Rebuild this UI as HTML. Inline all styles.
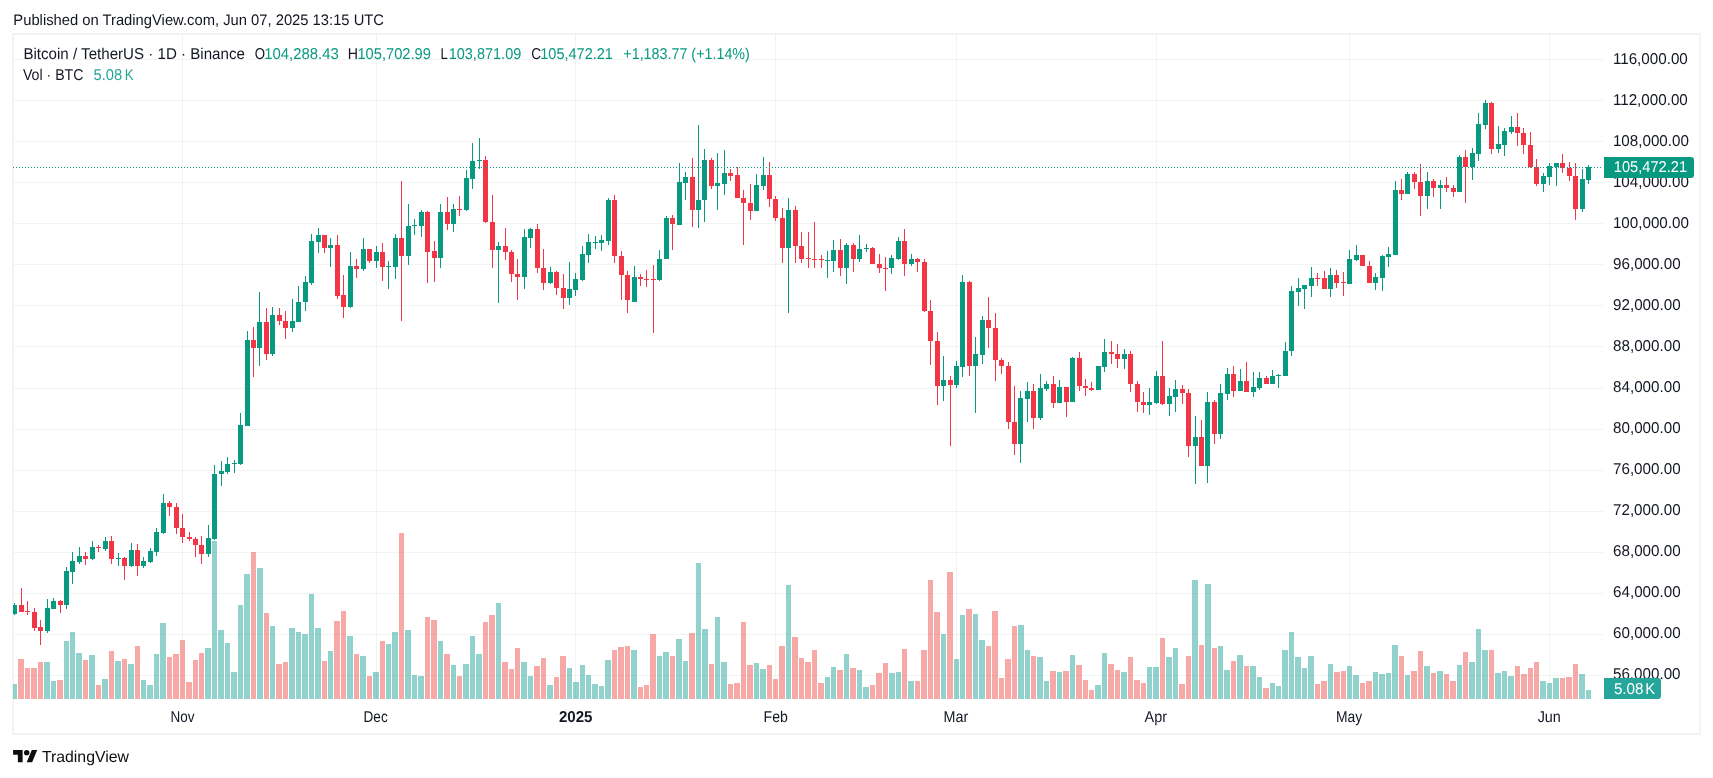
<!DOCTYPE html><html><head><meta charset="utf-8"><title>BTCUSDT chart</title><style>html,body{margin:0;padding:0;background:#fff;}svg{display:block;will-change:transform}text{font-family:"Liberation Sans", Arial, sans-serif;text-rendering:geometricPrecision}</style></head><body>
<svg width="1713" height="778" viewBox="0 0 1713 778">
<rect x="0" y="0" width="1713" height="778" fill="#fff"/>
<rect x="13" y="34" width="1687" height="700" fill="none" stroke="#f3f3f3" stroke-width="2"/>
<g shape-rendering="crispEdges">
<rect x="14" y="59" width="1589" height="1" fill="rgba(42,46,57,0.06)"/>
<rect x="14" y="100" width="1589" height="1" fill="rgba(42,46,57,0.06)"/>
<rect x="14" y="141" width="1589" height="1" fill="rgba(42,46,57,0.06)"/>
<rect x="14" y="182" width="1589" height="1" fill="rgba(42,46,57,0.06)"/>
<rect x="14" y="223" width="1589" height="1" fill="rgba(42,46,57,0.06)"/>
<rect x="14" y="264" width="1589" height="1" fill="rgba(42,46,57,0.06)"/>
<rect x="14" y="305" width="1589" height="1" fill="rgba(42,46,57,0.06)"/>
<rect x="14" y="346" width="1589" height="1" fill="rgba(42,46,57,0.06)"/>
<rect x="14" y="388" width="1589" height="1" fill="rgba(42,46,57,0.06)"/>
<rect x="14" y="429" width="1589" height="1" fill="rgba(42,46,57,0.06)"/>
<rect x="14" y="470" width="1589" height="1" fill="rgba(42,46,57,0.06)"/>
<rect x="14" y="511" width="1589" height="1" fill="rgba(42,46,57,0.06)"/>
<rect x="14" y="552" width="1589" height="1" fill="rgba(42,46,57,0.06)"/>
<rect x="14" y="593" width="1589" height="1" fill="rgba(42,46,57,0.06)"/>
<rect x="14" y="634" width="1589" height="1" fill="rgba(42,46,57,0.06)"/>
<rect x="14" y="675" width="1589" height="1" fill="rgba(42,46,57,0.06)"/>
<rect x="182" y="34" width="1" height="665" fill="rgba(42,46,57,0.06)"/>
<rect x="376" y="34" width="1" height="665" fill="rgba(42,46,57,0.06)"/>
<rect x="575" y="34" width="1" height="665" fill="rgba(42,46,57,0.06)"/>
<rect x="775" y="34" width="1" height="665" fill="rgba(42,46,57,0.06)"/>
<rect x="956" y="34" width="1" height="665" fill="rgba(42,46,57,0.06)"/>
<rect x="1156" y="34" width="1" height="665" fill="rgba(42,46,57,0.06)"/>
<rect x="1349" y="34" width="1" height="665" fill="rgba(42,46,57,0.06)"/>
<rect x="1549" y="34" width="1" height="665" fill="rgba(42,46,57,0.06)"/>
</g>
<g shape-rendering="crispEdges">
<rect x="13" y="684" width="4" height="15" fill="rgba(38,166,154,0.5)"/>
<rect x="18" y="659" width="6" height="40" fill="rgba(239,83,80,0.5)"/>
<rect x="25" y="668" width="5" height="31" fill="rgba(239,83,80,0.5)"/>
<rect x="31" y="668" width="6" height="31" fill="rgba(239,83,80,0.5)"/>
<rect x="38" y="662" width="5" height="37" fill="rgba(239,83,80,0.5)"/>
<rect x="44" y="662" width="6" height="37" fill="rgba(38,166,154,0.5)"/>
<rect x="51" y="681" width="5" height="18" fill="rgba(38,166,154,0.5)"/>
<rect x="57" y="680" width="6" height="19" fill="rgba(239,83,80,0.5)"/>
<rect x="64" y="641" width="5" height="58" fill="rgba(38,166,154,0.5)"/>
<rect x="70" y="632" width="5" height="67" fill="rgba(38,166,154,0.5)"/>
<rect x="76" y="653" width="6" height="46" fill="rgba(38,166,154,0.5)"/>
<rect x="83" y="660" width="5" height="39" fill="rgba(239,83,80,0.5)"/>
<rect x="89" y="655" width="6" height="44" fill="rgba(38,166,154,0.5)"/>
<rect x="96" y="685" width="5" height="14" fill="rgba(239,83,80,0.5)"/>
<rect x="102" y="679" width="6" height="20" fill="rgba(38,166,154,0.5)"/>
<rect x="109" y="651" width="5" height="48" fill="rgba(239,83,80,0.5)"/>
<rect x="115" y="661" width="6" height="38" fill="rgba(38,166,154,0.5)"/>
<rect x="122" y="659" width="5" height="40" fill="rgba(239,83,80,0.5)"/>
<rect x="128" y="664" width="6" height="35" fill="rgba(38,166,154,0.5)"/>
<rect x="135" y="646" width="5" height="53" fill="rgba(239,83,80,0.5)"/>
<rect x="141" y="680" width="5" height="19" fill="rgba(38,166,154,0.5)"/>
<rect x="147" y="685" width="6" height="14" fill="rgba(38,166,154,0.5)"/>
<rect x="154" y="654" width="5" height="45" fill="rgba(38,166,154,0.5)"/>
<rect x="160" y="623" width="6" height="76" fill="rgba(38,166,154,0.5)"/>
<rect x="167" y="657" width="5" height="42" fill="rgba(239,83,80,0.5)"/>
<rect x="173" y="654" width="6" height="45" fill="rgba(239,83,80,0.5)"/>
<rect x="180" y="640" width="5" height="59" fill="rgba(239,83,80,0.5)"/>
<rect x="186" y="682" width="6" height="17" fill="rgba(239,83,80,0.5)"/>
<rect x="193" y="660" width="5" height="39" fill="rgba(239,83,80,0.5)"/>
<rect x="199" y="653" width="5" height="46" fill="rgba(239,83,80,0.5)"/>
<rect x="205" y="648" width="6" height="51" fill="rgba(38,166,154,0.5)"/>
<rect x="212" y="541" width="5" height="158" fill="rgba(38,166,154,0.5)"/>
<rect x="218" y="630" width="6" height="69" fill="rgba(38,166,154,0.5)"/>
<rect x="225" y="643" width="5" height="56" fill="rgba(38,166,154,0.5)"/>
<rect x="231" y="672" width="6" height="27" fill="rgba(38,166,154,0.5)"/>
<rect x="238" y="605" width="5" height="94" fill="rgba(38,166,154,0.5)"/>
<rect x="244" y="574" width="6" height="125" fill="rgba(38,166,154,0.5)"/>
<rect x="251" y="552" width="5" height="147" fill="rgba(239,83,80,0.5)"/>
<rect x="257" y="568" width="6" height="131" fill="rgba(38,166,154,0.5)"/>
<rect x="264" y="613" width="5" height="86" fill="rgba(239,83,80,0.5)"/>
<rect x="270" y="626" width="5" height="73" fill="rgba(38,166,154,0.5)"/>
<rect x="276" y="664" width="6" height="35" fill="rgba(239,83,80,0.5)"/>
<rect x="283" y="662" width="5" height="37" fill="rgba(239,83,80,0.5)"/>
<rect x="289" y="628" width="6" height="71" fill="rgba(38,166,154,0.5)"/>
<rect x="296" y="632" width="5" height="67" fill="rgba(38,166,154,0.5)"/>
<rect x="302" y="634" width="6" height="65" fill="rgba(38,166,154,0.5)"/>
<rect x="309" y="594" width="5" height="105" fill="rgba(38,166,154,0.5)"/>
<rect x="315" y="628" width="6" height="71" fill="rgba(38,166,154,0.5)"/>
<rect x="322" y="661" width="5" height="38" fill="rgba(239,83,80,0.5)"/>
<rect x="328" y="651" width="5" height="48" fill="rgba(38,166,154,0.5)"/>
<rect x="334" y="621" width="6" height="78" fill="rgba(239,83,80,0.5)"/>
<rect x="341" y="611" width="5" height="88" fill="rgba(239,83,80,0.5)"/>
<rect x="347" y="636" width="6" height="63" fill="rgba(38,166,154,0.5)"/>
<rect x="354" y="654" width="5" height="45" fill="rgba(239,83,80,0.5)"/>
<rect x="360" y="656" width="6" height="43" fill="rgba(38,166,154,0.5)"/>
<rect x="367" y="676" width="5" height="23" fill="rgba(239,83,80,0.5)"/>
<rect x="373" y="672" width="6" height="27" fill="rgba(38,166,154,0.5)"/>
<rect x="380" y="641" width="5" height="58" fill="rgba(239,83,80,0.5)"/>
<rect x="386" y="644" width="5" height="55" fill="rgba(38,166,154,0.5)"/>
<rect x="392" y="632" width="6" height="67" fill="rgba(38,166,154,0.5)"/>
<rect x="399" y="533" width="5" height="166" fill="rgba(239,83,80,0.5)"/>
<rect x="405" y="630" width="6" height="69" fill="rgba(38,166,154,0.5)"/>
<rect x="412" y="675" width="5" height="24" fill="rgba(38,166,154,0.5)"/>
<rect x="418" y="676" width="6" height="23" fill="rgba(38,166,154,0.5)"/>
<rect x="425" y="617" width="5" height="82" fill="rgba(239,83,80,0.5)"/>
<rect x="431" y="620" width="6" height="79" fill="rgba(239,83,80,0.5)"/>
<rect x="438" y="641" width="5" height="58" fill="rgba(38,166,154,0.5)"/>
<rect x="444" y="654" width="6" height="45" fill="rgba(239,83,80,0.5)"/>
<rect x="451" y="665" width="5" height="34" fill="rgba(38,166,154,0.5)"/>
<rect x="457" y="676" width="5" height="23" fill="rgba(239,83,80,0.5)"/>
<rect x="463" y="664" width="6" height="35" fill="rgba(38,166,154,0.5)"/>
<rect x="470" y="636" width="5" height="63" fill="rgba(38,166,154,0.5)"/>
<rect x="476" y="654" width="6" height="45" fill="rgba(38,166,154,0.5)"/>
<rect x="483" y="622" width="5" height="77" fill="rgba(239,83,80,0.5)"/>
<rect x="489" y="615" width="6" height="84" fill="rgba(239,83,80,0.5)"/>
<rect x="496" y="603" width="5" height="96" fill="rgba(38,166,154,0.5)"/>
<rect x="502" y="662" width="6" height="37" fill="rgba(239,83,80,0.5)"/>
<rect x="509" y="669" width="5" height="30" fill="rgba(239,83,80,0.5)"/>
<rect x="515" y="648" width="5" height="51" fill="rgba(239,83,80,0.5)"/>
<rect x="521" y="662" width="6" height="37" fill="rgba(38,166,154,0.5)"/>
<rect x="528" y="676" width="5" height="23" fill="rgba(38,166,154,0.5)"/>
<rect x="534" y="666" width="6" height="33" fill="rgba(239,83,80,0.5)"/>
<rect x="541" y="658" width="5" height="41" fill="rgba(239,83,80,0.5)"/>
<rect x="547" y="685" width="6" height="14" fill="rgba(38,166,154,0.5)"/>
<rect x="554" y="677" width="5" height="22" fill="rgba(239,83,80,0.5)"/>
<rect x="560" y="656" width="6" height="43" fill="rgba(239,83,80,0.5)"/>
<rect x="567" y="668" width="5" height="31" fill="rgba(38,166,154,0.5)"/>
<rect x="573" y="682" width="6" height="17" fill="rgba(38,166,154,0.5)"/>
<rect x="580" y="665" width="5" height="34" fill="rgba(38,166,154,0.5)"/>
<rect x="586" y="675" width="5" height="24" fill="rgba(38,166,154,0.5)"/>
<rect x="592" y="684" width="6" height="15" fill="rgba(38,166,154,0.5)"/>
<rect x="599" y="686" width="5" height="13" fill="rgba(38,166,154,0.5)"/>
<rect x="605" y="660" width="6" height="39" fill="rgba(38,166,154,0.5)"/>
<rect x="612" y="650" width="5" height="49" fill="rgba(239,83,80,0.5)"/>
<rect x="618" y="647" width="6" height="52" fill="rgba(239,83,80,0.5)"/>
<rect x="625" y="646" width="5" height="53" fill="rgba(239,83,80,0.5)"/>
<rect x="631" y="650" width="6" height="49" fill="rgba(38,166,154,0.5)"/>
<rect x="638" y="687" width="5" height="12" fill="rgba(239,83,80,0.5)"/>
<rect x="644" y="685" width="5" height="14" fill="rgba(239,83,80,0.5)"/>
<rect x="650" y="634" width="6" height="65" fill="rgba(239,83,80,0.5)"/>
<rect x="657" y="656" width="5" height="43" fill="rgba(38,166,154,0.5)"/>
<rect x="663" y="652" width="6" height="47" fill="rgba(38,166,154,0.5)"/>
<rect x="670" y="656" width="5" height="43" fill="rgba(239,83,80,0.5)"/>
<rect x="676" y="639" width="6" height="60" fill="rgba(38,166,154,0.5)"/>
<rect x="683" y="661" width="5" height="38" fill="rgba(38,166,154,0.5)"/>
<rect x="689" y="633" width="6" height="66" fill="rgba(239,83,80,0.5)"/>
<rect x="696" y="563" width="5" height="136" fill="rgba(38,166,154,0.5)"/>
<rect x="702" y="629" width="6" height="70" fill="rgba(38,166,154,0.5)"/>
<rect x="709" y="664" width="5" height="35" fill="rgba(239,83,80,0.5)"/>
<rect x="715" y="617" width="5" height="82" fill="rgba(38,166,154,0.5)"/>
<rect x="721" y="662" width="6" height="37" fill="rgba(38,166,154,0.5)"/>
<rect x="728" y="684" width="5" height="15" fill="rgba(239,83,80,0.5)"/>
<rect x="734" y="683" width="6" height="16" fill="rgba(239,83,80,0.5)"/>
<rect x="741" y="622" width="5" height="77" fill="rgba(239,83,80,0.5)"/>
<rect x="747" y="665" width="6" height="34" fill="rgba(239,83,80,0.5)"/>
<rect x="754" y="663" width="5" height="36" fill="rgba(38,166,154,0.5)"/>
<rect x="760" y="669" width="6" height="30" fill="rgba(38,166,154,0.5)"/>
<rect x="767" y="665" width="5" height="34" fill="rgba(239,83,80,0.5)"/>
<rect x="773" y="679" width="5" height="20" fill="rgba(239,83,80,0.5)"/>
<rect x="779" y="646" width="6" height="53" fill="rgba(239,83,80,0.5)"/>
<rect x="786" y="585" width="5" height="114" fill="rgba(38,166,154,0.5)"/>
<rect x="792" y="637" width="6" height="62" fill="rgba(239,83,80,0.5)"/>
<rect x="799" y="658" width="5" height="41" fill="rgba(239,83,80,0.5)"/>
<rect x="805" y="662" width="6" height="37" fill="rgba(239,83,80,0.5)"/>
<rect x="812" y="650" width="5" height="49" fill="rgba(239,83,80,0.5)"/>
<rect x="818" y="683" width="6" height="16" fill="rgba(239,83,80,0.5)"/>
<rect x="825" y="677" width="5" height="22" fill="rgba(38,166,154,0.5)"/>
<rect x="831" y="667" width="5" height="32" fill="rgba(38,166,154,0.5)"/>
<rect x="837" y="670" width="6" height="29" fill="rgba(239,83,80,0.5)"/>
<rect x="844" y="654" width="5" height="45" fill="rgba(38,166,154,0.5)"/>
<rect x="850" y="668" width="6" height="31" fill="rgba(239,83,80,0.5)"/>
<rect x="857" y="670" width="5" height="29" fill="rgba(38,166,154,0.5)"/>
<rect x="863" y="687" width="6" height="12" fill="rgba(38,166,154,0.5)"/>
<rect x="870" y="685" width="5" height="14" fill="rgba(239,83,80,0.5)"/>
<rect x="876" y="673" width="6" height="26" fill="rgba(239,83,80,0.5)"/>
<rect x="883" y="663" width="5" height="36" fill="rgba(239,83,80,0.5)"/>
<rect x="889" y="673" width="6" height="26" fill="rgba(38,166,154,0.5)"/>
<rect x="896" y="672" width="5" height="27" fill="rgba(38,166,154,0.5)"/>
<rect x="902" y="649" width="5" height="50" fill="rgba(239,83,80,0.5)"/>
<rect x="908" y="681" width="6" height="18" fill="rgba(38,166,154,0.5)"/>
<rect x="915" y="681" width="5" height="18" fill="rgba(239,83,80,0.5)"/>
<rect x="921" y="650" width="6" height="49" fill="rgba(239,83,80,0.5)"/>
<rect x="928" y="580" width="5" height="119" fill="rgba(239,83,80,0.5)"/>
<rect x="934" y="612" width="6" height="87" fill="rgba(239,83,80,0.5)"/>
<rect x="941" y="634" width="5" height="65" fill="rgba(38,166,154,0.5)"/>
<rect x="947" y="572" width="6" height="127" fill="rgba(239,83,80,0.5)"/>
<rect x="954" y="659" width="5" height="40" fill="rgba(38,166,154,0.5)"/>
<rect x="960" y="615" width="5" height="84" fill="rgba(38,166,154,0.5)"/>
<rect x="966" y="609" width="6" height="90" fill="rgba(239,83,80,0.5)"/>
<rect x="973" y="614" width="5" height="85" fill="rgba(38,166,154,0.5)"/>
<rect x="979" y="640" width="6" height="59" fill="rgba(38,166,154,0.5)"/>
<rect x="986" y="646" width="5" height="53" fill="rgba(239,83,80,0.5)"/>
<rect x="992" y="611" width="6" height="88" fill="rgba(239,83,80,0.5)"/>
<rect x="999" y="678" width="5" height="21" fill="rgba(239,83,80,0.5)"/>
<rect x="1005" y="659" width="6" height="40" fill="rgba(239,83,80,0.5)"/>
<rect x="1012" y="626" width="5" height="73" fill="rgba(239,83,80,0.5)"/>
<rect x="1018" y="625" width="6" height="74" fill="rgba(38,166,154,0.5)"/>
<rect x="1025" y="650" width="5" height="49" fill="rgba(38,166,154,0.5)"/>
<rect x="1031" y="656" width="5" height="43" fill="rgba(239,83,80,0.5)"/>
<rect x="1037" y="657" width="6" height="42" fill="rgba(38,166,154,0.5)"/>
<rect x="1044" y="681" width="5" height="18" fill="rgba(38,166,154,0.5)"/>
<rect x="1050" y="671" width="6" height="28" fill="rgba(239,83,80,0.5)"/>
<rect x="1057" y="672" width="5" height="27" fill="rgba(38,166,154,0.5)"/>
<rect x="1063" y="671" width="6" height="28" fill="rgba(239,83,80,0.5)"/>
<rect x="1070" y="655" width="5" height="44" fill="rgba(38,166,154,0.5)"/>
<rect x="1076" y="665" width="6" height="34" fill="rgba(239,83,80,0.5)"/>
<rect x="1083" y="680" width="5" height="19" fill="rgba(239,83,80,0.5)"/>
<rect x="1089" y="690" width="5" height="9" fill="rgba(239,83,80,0.5)"/>
<rect x="1095" y="685" width="6" height="14" fill="rgba(38,166,154,0.5)"/>
<rect x="1102" y="653" width="5" height="46" fill="rgba(38,166,154,0.5)"/>
<rect x="1108" y="664" width="6" height="35" fill="rgba(239,83,80,0.5)"/>
<rect x="1115" y="670" width="5" height="29" fill="rgba(239,83,80,0.5)"/>
<rect x="1121" y="672" width="6" height="27" fill="rgba(38,166,154,0.5)"/>
<rect x="1128" y="657" width="5" height="42" fill="rgba(239,83,80,0.5)"/>
<rect x="1134" y="680" width="6" height="19" fill="rgba(239,83,80,0.5)"/>
<rect x="1141" y="683" width="5" height="16" fill="rgba(239,83,80,0.5)"/>
<rect x="1147" y="667" width="5" height="32" fill="rgba(38,166,154,0.5)"/>
<rect x="1153" y="667" width="6" height="32" fill="rgba(38,166,154,0.5)"/>
<rect x="1160" y="638" width="5" height="61" fill="rgba(239,83,80,0.5)"/>
<rect x="1166" y="657" width="6" height="42" fill="rgba(38,166,154,0.5)"/>
<rect x="1173" y="648" width="5" height="51" fill="rgba(38,166,154,0.5)"/>
<rect x="1179" y="684" width="6" height="15" fill="rgba(239,83,80,0.5)"/>
<rect x="1186" y="656" width="5" height="43" fill="rgba(239,83,80,0.5)"/>
<rect x="1192" y="580" width="6" height="119" fill="rgba(38,166,154,0.5)"/>
<rect x="1199" y="645" width="5" height="54" fill="rgba(239,83,80,0.5)"/>
<rect x="1205" y="584" width="6" height="115" fill="rgba(38,166,154,0.5)"/>
<rect x="1212" y="648" width="5" height="51" fill="rgba(239,83,80,0.5)"/>
<rect x="1218" y="646" width="5" height="53" fill="rgba(38,166,154,0.5)"/>
<rect x="1224" y="670" width="6" height="29" fill="rgba(38,166,154,0.5)"/>
<rect x="1231" y="661" width="5" height="38" fill="rgba(239,83,80,0.5)"/>
<rect x="1237" y="655" width="6" height="44" fill="rgba(38,166,154,0.5)"/>
<rect x="1244" y="666" width="5" height="33" fill="rgba(239,83,80,0.5)"/>
<rect x="1250" y="666" width="6" height="33" fill="rgba(38,166,154,0.5)"/>
<rect x="1257" y="677" width="5" height="22" fill="rgba(38,166,154,0.5)"/>
<rect x="1263" y="688" width="6" height="11" fill="rgba(239,83,80,0.5)"/>
<rect x="1270" y="683" width="5" height="16" fill="rgba(38,166,154,0.5)"/>
<rect x="1276" y="686" width="5" height="13" fill="rgba(38,166,154,0.5)"/>
<rect x="1282" y="650" width="6" height="49" fill="rgba(38,166,154,0.5)"/>
<rect x="1289" y="632" width="5" height="67" fill="rgba(38,166,154,0.5)"/>
<rect x="1295" y="657" width="6" height="42" fill="rgba(38,166,154,0.5)"/>
<rect x="1302" y="668" width="5" height="31" fill="rgba(38,166,154,0.5)"/>
<rect x="1308" y="656" width="6" height="43" fill="rgba(38,166,154,0.5)"/>
<rect x="1315" y="684" width="5" height="15" fill="rgba(239,83,80,0.5)"/>
<rect x="1321" y="681" width="6" height="18" fill="rgba(239,83,80,0.5)"/>
<rect x="1328" y="664" width="5" height="35" fill="rgba(38,166,154,0.5)"/>
<rect x="1334" y="672" width="6" height="27" fill="rgba(239,83,80,0.5)"/>
<rect x="1341" y="671" width="5" height="28" fill="rgba(239,83,80,0.5)"/>
<rect x="1347" y="666" width="5" height="33" fill="rgba(38,166,154,0.5)"/>
<rect x="1353" y="675" width="6" height="24" fill="rgba(38,166,154,0.5)"/>
<rect x="1360" y="683" width="5" height="16" fill="rgba(239,83,80,0.5)"/>
<rect x="1366" y="681" width="6" height="18" fill="rgba(239,83,80,0.5)"/>
<rect x="1373" y="672" width="5" height="27" fill="rgba(38,166,154,0.5)"/>
<rect x="1379" y="674" width="6" height="25" fill="rgba(38,166,154,0.5)"/>
<rect x="1386" y="673" width="5" height="26" fill="rgba(38,166,154,0.5)"/>
<rect x="1392" y="645" width="6" height="54" fill="rgba(38,166,154,0.5)"/>
<rect x="1399" y="656" width="5" height="43" fill="rgba(239,83,80,0.5)"/>
<rect x="1405" y="675" width="5" height="24" fill="rgba(38,166,154,0.5)"/>
<rect x="1411" y="671" width="6" height="28" fill="rgba(239,83,80,0.5)"/>
<rect x="1418" y="651" width="5" height="48" fill="rgba(239,83,80,0.5)"/>
<rect x="1424" y="666" width="6" height="33" fill="rgba(38,166,154,0.5)"/>
<rect x="1431" y="673" width="5" height="26" fill="rgba(239,83,80,0.5)"/>
<rect x="1437" y="671" width="6" height="28" fill="rgba(38,166,154,0.5)"/>
<rect x="1444" y="674" width="5" height="25" fill="rgba(239,83,80,0.5)"/>
<rect x="1450" y="681" width="6" height="18" fill="rgba(239,83,80,0.5)"/>
<rect x="1457" y="665" width="5" height="34" fill="rgba(38,166,154,0.5)"/>
<rect x="1463" y="652" width="5" height="47" fill="rgba(239,83,80,0.5)"/>
<rect x="1469" y="662" width="6" height="37" fill="rgba(38,166,154,0.5)"/>
<rect x="1476" y="629" width="5" height="70" fill="rgba(38,166,154,0.5)"/>
<rect x="1482" y="650" width="6" height="49" fill="rgba(38,166,154,0.5)"/>
<rect x="1489" y="650" width="5" height="49" fill="rgba(239,83,80,0.5)"/>
<rect x="1495" y="673" width="6" height="26" fill="rgba(38,166,154,0.5)"/>
<rect x="1502" y="671" width="5" height="28" fill="rgba(38,166,154,0.5)"/>
<rect x="1508" y="676" width="6" height="23" fill="rgba(38,166,154,0.5)"/>
<rect x="1515" y="666" width="5" height="33" fill="rgba(239,83,80,0.5)"/>
<rect x="1521" y="674" width="6" height="25" fill="rgba(239,83,80,0.5)"/>
<rect x="1528" y="668" width="5" height="31" fill="rgba(239,83,80,0.5)"/>
<rect x="1534" y="662" width="5" height="37" fill="rgba(239,83,80,0.5)"/>
<rect x="1540" y="681" width="6" height="18" fill="rgba(38,166,154,0.5)"/>
<rect x="1547" y="683" width="5" height="16" fill="rgba(38,166,154,0.5)"/>
<rect x="1553" y="678" width="6" height="21" fill="rgba(38,166,154,0.5)"/>
<rect x="1560" y="678" width="5" height="21" fill="rgba(239,83,80,0.5)"/>
<rect x="1566" y="677" width="6" height="22" fill="rgba(239,83,80,0.5)"/>
<rect x="1573" y="664" width="5" height="35" fill="rgba(239,83,80,0.5)"/>
<rect x="1579" y="674" width="6" height="25" fill="rgba(38,166,154,0.5)"/>
<rect x="1586" y="690" width="5" height="9" fill="rgba(38,166,154,0.5)"/>
</g>
<g shape-rendering="crispEdges">
<rect x="14" y="603" width="1" height="12" fill="#089981"/>
<rect x="13" y="605" width="4" height="9" fill="#089981"/>
<rect x="21" y="588" width="1" height="24" fill="#F23645"/>
<rect x="19" y="605" width="5" height="7" fill="#F23645"/>
<rect x="27" y="601" width="1" height="14" fill="#F23645"/>
<rect x="25" y="611" width="5" height="1" fill="#F23645"/>
<rect x="34" y="608" width="1" height="23" fill="#F23645"/>
<rect x="32" y="612" width="5" height="16" fill="#F23645"/>
<rect x="40" y="620" width="1" height="25" fill="#F23645"/>
<rect x="38" y="627" width="5" height="4" fill="#F23645"/>
<rect x="47" y="599" width="1" height="34" fill="#089981"/>
<rect x="45" y="608" width="5" height="23" fill="#089981"/>
<rect x="53" y="598" width="1" height="11" fill="#089981"/>
<rect x="51" y="601" width="5" height="8" fill="#089981"/>
<rect x="60" y="600" width="1" height="13" fill="#F23645"/>
<rect x="58" y="601" width="5" height="4" fill="#F23645"/>
<rect x="66" y="567" width="1" height="42" fill="#089981"/>
<rect x="64" y="571" width="5" height="34" fill="#089981"/>
<rect x="72" y="552" width="1" height="32" fill="#089981"/>
<rect x="70" y="561" width="5" height="11" fill="#089981"/>
<rect x="79" y="547" width="1" height="17" fill="#089981"/>
<rect x="77" y="556" width="5" height="6" fill="#089981"/>
<rect x="85" y="552" width="1" height="13" fill="#F23645"/>
<rect x="83" y="556" width="5" height="3" fill="#F23645"/>
<rect x="92" y="541" width="1" height="19" fill="#089981"/>
<rect x="90" y="547" width="5" height="12" fill="#089981"/>
<rect x="98" y="545" width="1" height="7" fill="#F23645"/>
<rect x="96" y="547" width="5" height="1" fill="#F23645"/>
<rect x="105" y="537" width="1" height="14" fill="#089981"/>
<rect x="103" y="541" width="5" height="8" fill="#089981"/>
<rect x="111" y="536" width="1" height="28" fill="#F23645"/>
<rect x="109" y="541" width="5" height="18" fill="#F23645"/>
<rect x="118" y="553" width="1" height="13" fill="#089981"/>
<rect x="116" y="558" width="5" height="1" fill="#089981"/>
<rect x="124" y="557" width="1" height="23" fill="#F23645"/>
<rect x="122" y="558" width="5" height="8" fill="#F23645"/>
<rect x="131" y="543" width="1" height="24" fill="#089981"/>
<rect x="129" y="550" width="5" height="16" fill="#089981"/>
<rect x="137" y="544" width="1" height="32" fill="#F23645"/>
<rect x="135" y="550" width="5" height="16" fill="#F23645"/>
<rect x="143" y="557" width="1" height="11" fill="#089981"/>
<rect x="141" y="561" width="5" height="5" fill="#089981"/>
<rect x="150" y="548" width="1" height="15" fill="#089981"/>
<rect x="148" y="551" width="5" height="11" fill="#089981"/>
<rect x="156" y="528" width="1" height="28" fill="#089981"/>
<rect x="154" y="532" width="5" height="20" fill="#089981"/>
<rect x="163" y="494" width="1" height="40" fill="#089981"/>
<rect x="161" y="503" width="5" height="30" fill="#089981"/>
<rect x="169" y="501" width="1" height="15" fill="#F23645"/>
<rect x="167" y="503" width="5" height="4" fill="#F23645"/>
<rect x="176" y="503" width="1" height="31" fill="#F23645"/>
<rect x="174" y="507" width="5" height="21" fill="#F23645"/>
<rect x="182" y="514" width="1" height="29" fill="#F23645"/>
<rect x="180" y="528" width="5" height="9" fill="#F23645"/>
<rect x="189" y="532" width="1" height="9" fill="#F23645"/>
<rect x="187" y="537" width="5" height="2" fill="#F23645"/>
<rect x="195" y="537" width="1" height="20" fill="#F23645"/>
<rect x="193" y="539" width="5" height="6" fill="#F23645"/>
<rect x="201" y="536" width="1" height="28" fill="#F23645"/>
<rect x="199" y="545" width="5" height="9" fill="#F23645"/>
<rect x="208" y="525" width="1" height="32" fill="#089981"/>
<rect x="206" y="538" width="5" height="16" fill="#089981"/>
<rect x="214" y="465" width="1" height="75" fill="#089981"/>
<rect x="212" y="474" width="5" height="65" fill="#089981"/>
<rect x="221" y="461" width="1" height="25" fill="#089981"/>
<rect x="219" y="471" width="5" height="3" fill="#089981"/>
<rect x="227" y="457" width="1" height="17" fill="#089981"/>
<rect x="225" y="464" width="5" height="8" fill="#089981"/>
<rect x="234" y="460" width="1" height="13" fill="#089981"/>
<rect x="232" y="463" width="5" height="1" fill="#089981"/>
<rect x="240" y="413" width="1" height="52" fill="#089981"/>
<rect x="238" y="425" width="5" height="39" fill="#089981"/>
<rect x="247" y="331" width="1" height="95" fill="#089981"/>
<rect x="245" y="340" width="5" height="86" fill="#089981"/>
<rect x="253" y="327" width="1" height="50" fill="#F23645"/>
<rect x="251" y="340" width="5" height="8" fill="#F23645"/>
<rect x="259" y="292" width="1" height="74" fill="#089981"/>
<rect x="257" y="322" width="5" height="26" fill="#089981"/>
<rect x="266" y="308" width="1" height="52" fill="#F23645"/>
<rect x="264" y="322" width="5" height="32" fill="#F23645"/>
<rect x="272" y="307" width="1" height="49" fill="#089981"/>
<rect x="270" y="315" width="5" height="39" fill="#089981"/>
<rect x="279" y="308" width="1" height="17" fill="#F23645"/>
<rect x="277" y="315" width="5" height="6" fill="#F23645"/>
<rect x="285" y="311" width="1" height="28" fill="#F23645"/>
<rect x="283" y="321" width="5" height="7" fill="#F23645"/>
<rect x="292" y="299" width="1" height="33" fill="#089981"/>
<rect x="290" y="321" width="5" height="7" fill="#089981"/>
<rect x="298" y="286" width="1" height="36" fill="#089981"/>
<rect x="296" y="302" width="5" height="20" fill="#089981"/>
<rect x="305" y="276" width="1" height="35" fill="#089981"/>
<rect x="303" y="282" width="5" height="20" fill="#089981"/>
<rect x="311" y="234" width="1" height="51" fill="#089981"/>
<rect x="309" y="241" width="5" height="42" fill="#089981"/>
<rect x="318" y="228" width="1" height="25" fill="#089981"/>
<rect x="316" y="235" width="5" height="7" fill="#089981"/>
<rect x="324" y="235" width="1" height="18" fill="#F23645"/>
<rect x="322" y="235" width="5" height="13" fill="#F23645"/>
<rect x="330" y="238" width="1" height="29" fill="#089981"/>
<rect x="328" y="245" width="5" height="3" fill="#089981"/>
<rect x="337" y="235" width="1" height="64" fill="#F23645"/>
<rect x="335" y="245" width="5" height="51" fill="#F23645"/>
<rect x="343" y="275" width="1" height="43" fill="#F23645"/>
<rect x="341" y="295" width="5" height="12" fill="#F23645"/>
<rect x="350" y="252" width="1" height="56" fill="#089981"/>
<rect x="348" y="266" width="5" height="41" fill="#089981"/>
<rect x="356" y="259" width="1" height="19" fill="#F23645"/>
<rect x="354" y="266" width="5" height="3" fill="#F23645"/>
<rect x="363" y="238" width="1" height="33" fill="#089981"/>
<rect x="361" y="249" width="5" height="20" fill="#089981"/>
<rect x="369" y="249" width="1" height="14" fill="#F23645"/>
<rect x="367" y="249" width="5" height="12" fill="#F23645"/>
<rect x="376" y="246" width="1" height="22" fill="#089981"/>
<rect x="374" y="252" width="5" height="9" fill="#089981"/>
<rect x="382" y="243" width="1" height="38" fill="#F23645"/>
<rect x="380" y="252" width="5" height="15" fill="#F23645"/>
<rect x="388" y="261" width="1" height="28" fill="#089981"/>
<rect x="386" y="266" width="5" height="1" fill="#089981"/>
<rect x="395" y="234" width="1" height="45" fill="#089981"/>
<rect x="393" y="238" width="5" height="29" fill="#089981"/>
<rect x="401" y="181" width="1" height="140" fill="#F23645"/>
<rect x="399" y="238" width="5" height="18" fill="#F23645"/>
<rect x="408" y="204" width="1" height="61" fill="#089981"/>
<rect x="406" y="226" width="5" height="30" fill="#089981"/>
<rect x="414" y="219" width="1" height="16" fill="#089981"/>
<rect x="412" y="225" width="5" height="1" fill="#089981"/>
<rect x="421" y="210" width="1" height="27" fill="#089981"/>
<rect x="419" y="212" width="5" height="14" fill="#089981"/>
<rect x="427" y="211" width="1" height="72" fill="#F23645"/>
<rect x="425" y="212" width="5" height="40" fill="#F23645"/>
<rect x="434" y="241" width="1" height="41" fill="#F23645"/>
<rect x="432" y="251" width="5" height="7" fill="#F23645"/>
<rect x="440" y="204" width="1" height="64" fill="#089981"/>
<rect x="438" y="212" width="5" height="46" fill="#089981"/>
<rect x="447" y="197" width="1" height="33" fill="#F23645"/>
<rect x="445" y="212" width="5" height="12" fill="#F23645"/>
<rect x="453" y="204" width="1" height="28" fill="#089981"/>
<rect x="451" y="209" width="5" height="15" fill="#089981"/>
<rect x="459" y="196" width="1" height="20" fill="#F23645"/>
<rect x="457" y="209" width="5" height="1" fill="#F23645"/>
<rect x="466" y="170" width="1" height="41" fill="#089981"/>
<rect x="464" y="178" width="5" height="32" fill="#089981"/>
<rect x="472" y="143" width="1" height="46" fill="#089981"/>
<rect x="470" y="161" width="5" height="18" fill="#089981"/>
<rect x="479" y="138" width="1" height="31" fill="#089981"/>
<rect x="477" y="160" width="5" height="1" fill="#089981"/>
<rect x="485" y="156" width="1" height="67" fill="#F23645"/>
<rect x="483" y="160" width="5" height="62" fill="#F23645"/>
<rect x="492" y="195" width="1" height="73" fill="#F23645"/>
<rect x="490" y="222" width="5" height="28" fill="#F23645"/>
<rect x="498" y="242" width="1" height="61" fill="#089981"/>
<rect x="496" y="246" width="5" height="4" fill="#089981"/>
<rect x="505" y="228" width="1" height="32" fill="#F23645"/>
<rect x="503" y="246" width="5" height="6" fill="#F23645"/>
<rect x="511" y="250" width="1" height="32" fill="#F23645"/>
<rect x="509" y="252" width="5" height="22" fill="#F23645"/>
<rect x="517" y="259" width="1" height="41" fill="#F23645"/>
<rect x="515" y="274" width="5" height="3" fill="#F23645"/>
<rect x="524" y="229" width="1" height="60" fill="#089981"/>
<rect x="522" y="237" width="5" height="40" fill="#089981"/>
<rect x="530" y="228" width="1" height="20" fill="#089981"/>
<rect x="528" y="229" width="5" height="9" fill="#089981"/>
<rect x="537" y="224" width="1" height="49" fill="#F23645"/>
<rect x="535" y="229" width="5" height="39" fill="#F23645"/>
<rect x="543" y="249" width="1" height="41" fill="#F23645"/>
<rect x="541" y="268" width="5" height="15" fill="#F23645"/>
<rect x="550" y="267" width="1" height="17" fill="#089981"/>
<rect x="548" y="272" width="5" height="11" fill="#089981"/>
<rect x="556" y="271" width="1" height="24" fill="#F23645"/>
<rect x="554" y="272" width="5" height="16" fill="#F23645"/>
<rect x="563" y="274" width="1" height="35" fill="#F23645"/>
<rect x="561" y="288" width="5" height="10" fill="#F23645"/>
<rect x="569" y="262" width="1" height="43" fill="#089981"/>
<rect x="567" y="289" width="5" height="9" fill="#089981"/>
<rect x="575" y="273" width="1" height="23" fill="#089981"/>
<rect x="573" y="279" width="5" height="11" fill="#089981"/>
<rect x="582" y="246" width="1" height="35" fill="#089981"/>
<rect x="580" y="254" width="5" height="26" fill="#089981"/>
<rect x="588" y="234" width="1" height="29" fill="#089981"/>
<rect x="586" y="242" width="5" height="13" fill="#089981"/>
<rect x="595" y="236" width="1" height="13" fill="#089981"/>
<rect x="593" y="242" width="5" height="1" fill="#089981"/>
<rect x="601" y="235" width="1" height="16" fill="#089981"/>
<rect x="599" y="240" width="5" height="3" fill="#089981"/>
<rect x="608" y="198" width="1" height="47" fill="#089981"/>
<rect x="606" y="200" width="5" height="41" fill="#089981"/>
<rect x="614" y="195" width="1" height="68" fill="#F23645"/>
<rect x="612" y="200" width="5" height="56" fill="#F23645"/>
<rect x="621" y="251" width="1" height="49" fill="#F23645"/>
<rect x="619" y="256" width="5" height="19" fill="#F23645"/>
<rect x="627" y="271" width="1" height="42" fill="#F23645"/>
<rect x="625" y="275" width="5" height="25" fill="#F23645"/>
<rect x="634" y="266" width="1" height="36" fill="#089981"/>
<rect x="632" y="277" width="5" height="25" fill="#089981"/>
<rect x="640" y="274" width="1" height="12" fill="#F23645"/>
<rect x="638" y="277" width="5" height="2" fill="#F23645"/>
<rect x="646" y="270" width="1" height="17" fill="#F23645"/>
<rect x="644" y="279" width="5" height="1" fill="#F23645"/>
<rect x="653" y="265" width="1" height="68" fill="#F23645"/>
<rect x="651" y="279" width="5" height="1" fill="#F23645"/>
<rect x="659" y="250" width="1" height="31" fill="#089981"/>
<rect x="657" y="259" width="5" height="21" fill="#089981"/>
<rect x="666" y="216" width="1" height="43" fill="#089981"/>
<rect x="664" y="218" width="5" height="41" fill="#089981"/>
<rect x="672" y="215" width="1" height="35" fill="#F23645"/>
<rect x="670" y="218" width="5" height="6" fill="#F23645"/>
<rect x="679" y="163" width="1" height="62" fill="#089981"/>
<rect x="677" y="182" width="5" height="43" fill="#089981"/>
<rect x="685" y="172" width="1" height="28" fill="#089981"/>
<rect x="683" y="177" width="5" height="6" fill="#089981"/>
<rect x="692" y="158" width="1" height="69" fill="#F23645"/>
<rect x="690" y="177" width="5" height="33" fill="#F23645"/>
<rect x="698" y="125" width="1" height="103" fill="#089981"/>
<rect x="696" y="200" width="5" height="10" fill="#089981"/>
<rect x="704" y="149" width="1" height="73" fill="#089981"/>
<rect x="702" y="160" width="5" height="40" fill="#089981"/>
<rect x="711" y="158" width="1" height="31" fill="#F23645"/>
<rect x="709" y="160" width="5" height="26" fill="#F23645"/>
<rect x="717" y="153" width="1" height="57" fill="#089981"/>
<rect x="715" y="183" width="5" height="3" fill="#089981"/>
<rect x="724" y="150" width="1" height="45" fill="#089981"/>
<rect x="722" y="173" width="5" height="11" fill="#089981"/>
<rect x="730" y="169" width="1" height="12" fill="#F23645"/>
<rect x="728" y="173" width="5" height="3" fill="#F23645"/>
<rect x="737" y="167" width="1" height="31" fill="#F23645"/>
<rect x="735" y="175" width="5" height="23" fill="#F23645"/>
<rect x="743" y="190" width="1" height="55" fill="#F23645"/>
<rect x="741" y="198" width="5" height="5" fill="#F23645"/>
<rect x="750" y="184" width="1" height="36" fill="#F23645"/>
<rect x="748" y="203" width="5" height="8" fill="#F23645"/>
<rect x="756" y="174" width="1" height="37" fill="#089981"/>
<rect x="754" y="185" width="5" height="26" fill="#089981"/>
<rect x="763" y="157" width="1" height="33" fill="#089981"/>
<rect x="761" y="175" width="5" height="11" fill="#089981"/>
<rect x="769" y="162" width="1" height="45" fill="#F23645"/>
<rect x="767" y="175" width="5" height="24" fill="#F23645"/>
<rect x="775" y="196" width="1" height="25" fill="#F23645"/>
<rect x="773" y="199" width="5" height="19" fill="#F23645"/>
<rect x="782" y="208" width="1" height="55" fill="#F23645"/>
<rect x="780" y="218" width="5" height="30" fill="#F23645"/>
<rect x="788" y="198" width="1" height="115" fill="#089981"/>
<rect x="786" y="210" width="5" height="38" fill="#089981"/>
<rect x="795" y="206" width="1" height="57" fill="#F23645"/>
<rect x="793" y="210" width="5" height="36" fill="#F23645"/>
<rect x="801" y="232" width="1" height="31" fill="#F23645"/>
<rect x="799" y="246" width="5" height="13" fill="#F23645"/>
<rect x="808" y="232" width="1" height="36" fill="#F23645"/>
<rect x="806" y="258" width="5" height="1" fill="#F23645"/>
<rect x="814" y="222" width="1" height="46" fill="#F23645"/>
<rect x="812" y="259" width="5" height="1" fill="#F23645"/>
<rect x="821" y="255" width="1" height="13" fill="#F23645"/>
<rect x="819" y="259" width="5" height="1" fill="#F23645"/>
<rect x="827" y="251" width="1" height="27" fill="#089981"/>
<rect x="825" y="260" width="5" height="1" fill="#089981"/>
<rect x="833" y="240" width="1" height="32" fill="#089981"/>
<rect x="831" y="250" width="5" height="11" fill="#089981"/>
<rect x="840" y="239" width="1" height="37" fill="#F23645"/>
<rect x="838" y="250" width="5" height="18" fill="#F23645"/>
<rect x="846" y="243" width="1" height="41" fill="#089981"/>
<rect x="844" y="245" width="5" height="23" fill="#089981"/>
<rect x="853" y="243" width="1" height="29" fill="#F23645"/>
<rect x="851" y="245" width="5" height="14" fill="#F23645"/>
<rect x="859" y="235" width="1" height="27" fill="#089981"/>
<rect x="857" y="249" width="5" height="10" fill="#089981"/>
<rect x="866" y="244" width="1" height="8" fill="#089981"/>
<rect x="864" y="248" width="5" height="1" fill="#089981"/>
<rect x="872" y="247" width="1" height="17" fill="#F23645"/>
<rect x="870" y="248" width="5" height="16" fill="#F23645"/>
<rect x="879" y="254" width="1" height="19" fill="#F23645"/>
<rect x="877" y="264" width="5" height="4" fill="#F23645"/>
<rect x="885" y="257" width="1" height="34" fill="#F23645"/>
<rect x="883" y="268" width="5" height="1" fill="#F23645"/>
<rect x="891" y="255" width="1" height="19" fill="#089981"/>
<rect x="889" y="258" width="5" height="10" fill="#089981"/>
<rect x="898" y="237" width="1" height="23" fill="#089981"/>
<rect x="896" y="241" width="5" height="18" fill="#089981"/>
<rect x="904" y="229" width="1" height="47" fill="#F23645"/>
<rect x="902" y="241" width="5" height="23" fill="#F23645"/>
<rect x="911" y="254" width="1" height="12" fill="#089981"/>
<rect x="909" y="259" width="5" height="5" fill="#089981"/>
<rect x="917" y="258" width="1" height="14" fill="#F23645"/>
<rect x="915" y="259" width="5" height="3" fill="#F23645"/>
<rect x="924" y="259" width="1" height="53" fill="#F23645"/>
<rect x="922" y="262" width="5" height="49" fill="#F23645"/>
<rect x="930" y="300" width="1" height="65" fill="#F23645"/>
<rect x="928" y="311" width="5" height="30" fill="#F23645"/>
<rect x="937" y="332" width="1" height="73" fill="#F23645"/>
<rect x="935" y="341" width="5" height="45" fill="#F23645"/>
<rect x="943" y="356" width="1" height="45" fill="#089981"/>
<rect x="941" y="380" width="5" height="6" fill="#089981"/>
<rect x="950" y="376" width="1" height="70" fill="#F23645"/>
<rect x="948" y="380" width="5" height="5" fill="#F23645"/>
<rect x="956" y="361" width="1" height="27" fill="#089981"/>
<rect x="954" y="366" width="5" height="19" fill="#089981"/>
<rect x="962" y="275" width="1" height="102" fill="#089981"/>
<rect x="960" y="282" width="5" height="85" fill="#089981"/>
<rect x="969" y="281" width="1" height="95" fill="#F23645"/>
<rect x="967" y="282" width="5" height="84" fill="#F23645"/>
<rect x="975" y="337" width="1" height="76" fill="#089981"/>
<rect x="973" y="354" width="5" height="12" fill="#089981"/>
<rect x="982" y="316" width="1" height="48" fill="#089981"/>
<rect x="980" y="320" width="5" height="35" fill="#089981"/>
<rect x="988" y="297" width="1" height="51" fill="#F23645"/>
<rect x="986" y="320" width="5" height="8" fill="#F23645"/>
<rect x="995" y="313" width="1" height="68" fill="#F23645"/>
<rect x="993" y="328" width="5" height="32" fill="#F23645"/>
<rect x="1001" y="358" width="1" height="16" fill="#F23645"/>
<rect x="999" y="360" width="5" height="6" fill="#F23645"/>
<rect x="1008" y="362" width="1" height="67" fill="#F23645"/>
<rect x="1006" y="366" width="5" height="56" fill="#F23645"/>
<rect x="1014" y="386" width="1" height="69" fill="#F23645"/>
<rect x="1012" y="422" width="5" height="22" fill="#F23645"/>
<rect x="1020" y="391" width="1" height="72" fill="#089981"/>
<rect x="1018" y="398" width="5" height="46" fill="#089981"/>
<rect x="1027" y="382" width="1" height="40" fill="#089981"/>
<rect x="1025" y="391" width="5" height="8" fill="#089981"/>
<rect x="1033" y="384" width="1" height="45" fill="#F23645"/>
<rect x="1031" y="391" width="5" height="27" fill="#F23645"/>
<rect x="1040" y="374" width="1" height="46" fill="#089981"/>
<rect x="1038" y="388" width="5" height="30" fill="#089981"/>
<rect x="1046" y="381" width="1" height="10" fill="#089981"/>
<rect x="1044" y="384" width="5" height="5" fill="#089981"/>
<rect x="1053" y="376" width="1" height="32" fill="#F23645"/>
<rect x="1051" y="384" width="5" height="19" fill="#F23645"/>
<rect x="1059" y="380" width="1" height="23" fill="#089981"/>
<rect x="1057" y="387" width="5" height="16" fill="#089981"/>
<rect x="1066" y="387" width="1" height="30" fill="#F23645"/>
<rect x="1064" y="387" width="5" height="15" fill="#F23645"/>
<rect x="1072" y="357" width="1" height="45" fill="#089981"/>
<rect x="1070" y="358" width="5" height="44" fill="#089981"/>
<rect x="1079" y="352" width="1" height="39" fill="#F23645"/>
<rect x="1077" y="358" width="5" height="28" fill="#F23645"/>
<rect x="1085" y="379" width="1" height="17" fill="#F23645"/>
<rect x="1083" y="386" width="5" height="2" fill="#F23645"/>
<rect x="1091" y="382" width="1" height="9" fill="#F23645"/>
<rect x="1089" y="388" width="5" height="2" fill="#F23645"/>
<rect x="1098" y="366" width="1" height="24" fill="#089981"/>
<rect x="1096" y="366" width="5" height="24" fill="#089981"/>
<rect x="1104" y="339" width="1" height="33" fill="#089981"/>
<rect x="1102" y="352" width="5" height="15" fill="#089981"/>
<rect x="1111" y="341" width="1" height="23" fill="#F23645"/>
<rect x="1109" y="352" width="5" height="2" fill="#F23645"/>
<rect x="1117" y="344" width="1" height="24" fill="#F23645"/>
<rect x="1115" y="354" width="5" height="5" fill="#F23645"/>
<rect x="1124" y="349" width="1" height="20" fill="#089981"/>
<rect x="1122" y="354" width="5" height="5" fill="#089981"/>
<rect x="1130" y="351" width="1" height="41" fill="#F23645"/>
<rect x="1128" y="354" width="5" height="30" fill="#F23645"/>
<rect x="1137" y="381" width="1" height="31" fill="#F23645"/>
<rect x="1135" y="384" width="5" height="18" fill="#F23645"/>
<rect x="1143" y="392" width="1" height="21" fill="#F23645"/>
<rect x="1141" y="402" width="5" height="3" fill="#F23645"/>
<rect x="1149" y="388" width="1" height="27" fill="#089981"/>
<rect x="1147" y="402" width="5" height="3" fill="#089981"/>
<rect x="1156" y="371" width="1" height="33" fill="#089981"/>
<rect x="1154" y="376" width="5" height="27" fill="#089981"/>
<rect x="1162" y="341" width="1" height="64" fill="#F23645"/>
<rect x="1160" y="376" width="5" height="28" fill="#F23645"/>
<rect x="1169" y="388" width="1" height="28" fill="#089981"/>
<rect x="1167" y="396" width="5" height="8" fill="#089981"/>
<rect x="1175" y="380" width="1" height="32" fill="#089981"/>
<rect x="1173" y="389" width="5" height="8" fill="#089981"/>
<rect x="1182" y="385" width="1" height="19" fill="#F23645"/>
<rect x="1180" y="389" width="5" height="4" fill="#F23645"/>
<rect x="1188" y="389" width="1" height="68" fill="#F23645"/>
<rect x="1186" y="393" width="5" height="53" fill="#F23645"/>
<rect x="1195" y="416" width="1" height="68" fill="#089981"/>
<rect x="1193" y="437" width="5" height="9" fill="#089981"/>
<rect x="1201" y="420" width="1" height="46" fill="#F23645"/>
<rect x="1199" y="437" width="5" height="29" fill="#F23645"/>
<rect x="1207" y="392" width="1" height="91" fill="#089981"/>
<rect x="1205" y="402" width="5" height="64" fill="#089981"/>
<rect x="1214" y="400" width="1" height="44" fill="#F23645"/>
<rect x="1212" y="402" width="5" height="32" fill="#F23645"/>
<rect x="1220" y="384" width="1" height="55" fill="#089981"/>
<rect x="1218" y="393" width="5" height="41" fill="#089981"/>
<rect x="1227" y="368" width="1" height="32" fill="#089981"/>
<rect x="1225" y="374" width="5" height="20" fill="#089981"/>
<rect x="1233" y="366" width="1" height="31" fill="#F23645"/>
<rect x="1231" y="374" width="5" height="17" fill="#F23645"/>
<rect x="1240" y="369" width="1" height="22" fill="#089981"/>
<rect x="1238" y="381" width="5" height="10" fill="#089981"/>
<rect x="1246" y="362" width="1" height="30" fill="#F23645"/>
<rect x="1244" y="381" width="5" height="11" fill="#F23645"/>
<rect x="1253" y="372" width="1" height="25" fill="#089981"/>
<rect x="1251" y="387" width="5" height="5" fill="#089981"/>
<rect x="1259" y="372" width="1" height="18" fill="#089981"/>
<rect x="1257" y="378" width="5" height="10" fill="#089981"/>
<rect x="1266" y="376" width="1" height="8" fill="#F23645"/>
<rect x="1264" y="378" width="5" height="6" fill="#F23645"/>
<rect x="1272" y="370" width="1" height="14" fill="#089981"/>
<rect x="1270" y="376" width="5" height="8" fill="#089981"/>
<rect x="1278" y="374" width="1" height="14" fill="#089981"/>
<rect x="1276" y="375" width="5" height="1" fill="#089981"/>
<rect x="1285" y="342" width="1" height="34" fill="#089981"/>
<rect x="1283" y="351" width="5" height="25" fill="#089981"/>
<rect x="1291" y="286" width="1" height="70" fill="#089981"/>
<rect x="1289" y="291" width="5" height="60" fill="#089981"/>
<rect x="1298" y="278" width="1" height="28" fill="#089981"/>
<rect x="1296" y="288" width="5" height="4" fill="#089981"/>
<rect x="1304" y="285" width="1" height="24" fill="#089981"/>
<rect x="1302" y="285" width="5" height="4" fill="#089981"/>
<rect x="1311" y="267" width="1" height="30" fill="#089981"/>
<rect x="1309" y="278" width="5" height="8" fill="#089981"/>
<rect x="1317" y="273" width="1" height="13" fill="#F23645"/>
<rect x="1315" y="278" width="5" height="1" fill="#F23645"/>
<rect x="1324" y="271" width="1" height="18" fill="#F23645"/>
<rect x="1322" y="278" width="5" height="11" fill="#F23645"/>
<rect x="1330" y="268" width="1" height="29" fill="#089981"/>
<rect x="1328" y="275" width="5" height="14" fill="#089981"/>
<rect x="1336" y="270" width="1" height="18" fill="#F23645"/>
<rect x="1334" y="275" width="5" height="8" fill="#F23645"/>
<rect x="1343" y="272" width="1" height="24" fill="#F23645"/>
<rect x="1341" y="282" width="5" height="1" fill="#F23645"/>
<rect x="1349" y="250" width="1" height="34" fill="#089981"/>
<rect x="1347" y="259" width="5" height="25" fill="#089981"/>
<rect x="1356" y="245" width="1" height="16" fill="#089981"/>
<rect x="1354" y="255" width="5" height="5" fill="#089981"/>
<rect x="1362" y="255" width="1" height="11" fill="#F23645"/>
<rect x="1360" y="255" width="5" height="11" fill="#F23645"/>
<rect x="1369" y="261" width="1" height="22" fill="#F23645"/>
<rect x="1367" y="266" width="5" height="17" fill="#F23645"/>
<rect x="1375" y="273" width="1" height="17" fill="#089981"/>
<rect x="1373" y="277" width="5" height="6" fill="#089981"/>
<rect x="1382" y="255" width="1" height="36" fill="#089981"/>
<rect x="1380" y="256" width="5" height="22" fill="#089981"/>
<rect x="1388" y="247" width="1" height="20" fill="#089981"/>
<rect x="1386" y="254" width="5" height="3" fill="#089981"/>
<rect x="1395" y="181" width="1" height="74" fill="#089981"/>
<rect x="1393" y="190" width="5" height="65" fill="#089981"/>
<rect x="1401" y="179" width="1" height="21" fill="#F23645"/>
<rect x="1399" y="190" width="5" height="4" fill="#F23645"/>
<rect x="1407" y="172" width="1" height="22" fill="#089981"/>
<rect x="1405" y="174" width="5" height="20" fill="#089981"/>
<rect x="1414" y="172" width="1" height="17" fill="#F23645"/>
<rect x="1412" y="174" width="5" height="8" fill="#F23645"/>
<rect x="1420" y="164" width="1" height="52" fill="#F23645"/>
<rect x="1418" y="182" width="5" height="14" fill="#F23645"/>
<rect x="1427" y="172" width="1" height="37" fill="#089981"/>
<rect x="1425" y="181" width="5" height="15" fill="#089981"/>
<rect x="1433" y="179" width="1" height="18" fill="#F23645"/>
<rect x="1431" y="181" width="5" height="7" fill="#F23645"/>
<rect x="1440" y="180" width="1" height="29" fill="#089981"/>
<rect x="1438" y="185" width="5" height="3" fill="#089981"/>
<rect x="1446" y="177" width="1" height="15" fill="#F23645"/>
<rect x="1444" y="185" width="5" height="3" fill="#F23645"/>
<rect x="1453" y="185" width="1" height="12" fill="#F23645"/>
<rect x="1451" y="188" width="5" height="4" fill="#F23645"/>
<rect x="1459" y="155" width="1" height="37" fill="#089981"/>
<rect x="1457" y="157" width="5" height="35" fill="#089981"/>
<rect x="1465" y="150" width="1" height="53" fill="#F23645"/>
<rect x="1463" y="157" width="5" height="10" fill="#F23645"/>
<rect x="1472" y="148" width="1" height="32" fill="#089981"/>
<rect x="1470" y="153" width="5" height="14" fill="#089981"/>
<rect x="1478" y="113" width="1" height="48" fill="#089981"/>
<rect x="1476" y="124" width="5" height="30" fill="#089981"/>
<rect x="1485" y="100" width="1" height="29" fill="#089981"/>
<rect x="1483" y="103" width="5" height="22" fill="#089981"/>
<rect x="1491" y="102" width="1" height="52" fill="#F23645"/>
<rect x="1489" y="103" width="5" height="46" fill="#F23645"/>
<rect x="1498" y="126" width="1" height="27" fill="#089981"/>
<rect x="1496" y="144" width="5" height="5" fill="#089981"/>
<rect x="1504" y="128" width="1" height="28" fill="#089981"/>
<rect x="1502" y="131" width="5" height="14" fill="#089981"/>
<rect x="1511" y="116" width="1" height="18" fill="#089981"/>
<rect x="1509" y="127" width="5" height="5" fill="#089981"/>
<rect x="1517" y="113" width="1" height="33" fill="#F23645"/>
<rect x="1515" y="127" width="5" height="6" fill="#F23645"/>
<rect x="1523" y="128" width="1" height="26" fill="#F23645"/>
<rect x="1521" y="133" width="5" height="12" fill="#F23645"/>
<rect x="1530" y="132" width="1" height="36" fill="#F23645"/>
<rect x="1528" y="145" width="5" height="22" fill="#F23645"/>
<rect x="1536" y="159" width="1" height="27" fill="#F23645"/>
<rect x="1534" y="167" width="5" height="17" fill="#F23645"/>
<rect x="1543" y="173" width="1" height="19" fill="#089981"/>
<rect x="1541" y="176" width="5" height="8" fill="#089981"/>
<rect x="1549" y="163" width="1" height="22" fill="#089981"/>
<rect x="1547" y="166" width="5" height="11" fill="#089981"/>
<rect x="1556" y="163" width="1" height="23" fill="#089981"/>
<rect x="1554" y="163" width="5" height="4" fill="#089981"/>
<rect x="1562" y="154" width="1" height="19" fill="#F23645"/>
<rect x="1560" y="163" width="5" height="5" fill="#F23645"/>
<rect x="1569" y="162" width="1" height="19" fill="#F23645"/>
<rect x="1567" y="168" width="5" height="8" fill="#F23645"/>
<rect x="1575" y="163" width="1" height="57" fill="#F23645"/>
<rect x="1573" y="176" width="5" height="33" fill="#F23645"/>
<rect x="1582" y="169" width="1" height="43" fill="#089981"/>
<rect x="1580" y="179" width="5" height="30" fill="#089981"/>
<rect x="1588" y="165" width="1" height="19" fill="#089981"/>
<rect x="1586" y="167" width="5" height="13" fill="#089981"/>
</g>
<line x1="13" y1="167.5" x2="1603" y2="167.5" stroke="#089981" stroke-width="1" stroke-dasharray="1 2" shape-rendering="crispEdges"/>
<text x="13.33" y="25.0" font-size="15.3" fill="#131722" textLength="370.68" lengthAdjust="spacingAndGlyphs">Published on TradingView.com, Jun 07, 2025 13:15 UTC</text>
<text x="23.38" y="58.8" font-size="15.7" fill="#131722" textLength="221.53" lengthAdjust="spacingAndGlyphs">Bitcoin / TetherUS · 1D · Binance</text>
<text x="254.68" y="58.8" font-size="15.7" fill="#131722" textLength="10.30" lengthAdjust="spacingAndGlyphs">O</text>
<text x="264.23" y="58.8" font-size="15.7" fill="#089981" textLength="74.47" lengthAdjust="spacingAndGlyphs">104,288.43</text>
<text x="347.76" y="58.8" font-size="15.7" fill="#131722" textLength="10.21" lengthAdjust="spacingAndGlyphs">H</text>
<text x="357.44" y="58.8" font-size="15.7" fill="#089981" textLength="73.45" lengthAdjust="spacingAndGlyphs">105,702.99</text>
<text x="440.60" y="58.8" font-size="15.7" fill="#131722" textLength="7.26" lengthAdjust="spacingAndGlyphs">L</text>
<text x="448.65" y="58.8" font-size="15.7" fill="#089981" textLength="72.64" lengthAdjust="spacingAndGlyphs">103,871.09</text>
<text x="531.26" y="58.8" font-size="15.7" fill="#131722" textLength="9.84" lengthAdjust="spacingAndGlyphs">C</text>
<text x="540.25" y="58.8" font-size="15.7" fill="#089981" textLength="72.64" lengthAdjust="spacingAndGlyphs">105,472.21</text>
<text x="623.32" y="58.8" font-size="15.7" fill="#089981" textLength="126.53" lengthAdjust="spacingAndGlyphs">+1,183.77 (+1.14%)</text>
<text x="22.94" y="79.8" font-size="15.7" fill="#131722" textLength="60.51" lengthAdjust="spacingAndGlyphs">Vol · BTC</text>
<text x="93.49" y="79.8" font-size="15.7" fill="#26a69a" textLength="28.73" lengthAdjust="spacingAndGlyphs">5.08</text>
<text x="124.69" y="79.8" font-size="15.7" fill="#26a69a" textLength="8.89" lengthAdjust="spacingAndGlyphs">K</text>
<text x="1612.90" y="63.9" font-size="15.7" fill="#131722" textLength="74.91" lengthAdjust="spacingAndGlyphs">116,000.00</text>
<text x="1612.90" y="104.9" font-size="15.7" fill="#131722" textLength="74.91" lengthAdjust="spacingAndGlyphs">112,000.00</text>
<text x="1612.90" y="145.9" font-size="15.7" fill="#131722" textLength="76.03" lengthAdjust="spacingAndGlyphs">108,000.00</text>
<text x="1612.90" y="186.9" font-size="15.7" fill="#131722" textLength="76.03" lengthAdjust="spacingAndGlyphs">104,000.00</text>
<text x="1612.90" y="227.8" font-size="15.7" fill="#131722" textLength="76.03" lengthAdjust="spacingAndGlyphs">100,000.00</text>
<text x="1613.04" y="268.8" font-size="15.7" fill="#131722" textLength="67.59" lengthAdjust="spacingAndGlyphs">96,000.00</text>
<text x="1613.04" y="309.8" font-size="15.7" fill="#131722" textLength="67.59" lengthAdjust="spacingAndGlyphs">92,000.00</text>
<text x="1613.04" y="350.8" font-size="15.7" fill="#131722" textLength="67.59" lengthAdjust="spacingAndGlyphs">88,000.00</text>
<text x="1613.04" y="391.8" font-size="15.7" fill="#131722" textLength="67.59" lengthAdjust="spacingAndGlyphs">84,000.00</text>
<text x="1613.04" y="432.8" font-size="15.7" fill="#131722" textLength="67.59" lengthAdjust="spacingAndGlyphs">80,000.00</text>
<text x="1613.00" y="473.7" font-size="15.7" fill="#131722" textLength="67.59" lengthAdjust="spacingAndGlyphs">76,000.00</text>
<text x="1613.00" y="514.7" font-size="15.7" fill="#131722" textLength="67.59" lengthAdjust="spacingAndGlyphs">72,000.00</text>
<text x="1613.02" y="555.7" font-size="15.7" fill="#131722" textLength="67.59" lengthAdjust="spacingAndGlyphs">68,000.00</text>
<text x="1613.02" y="596.7" font-size="15.7" fill="#131722" textLength="67.59" lengthAdjust="spacingAndGlyphs">64,000.00</text>
<text x="1613.02" y="637.7" font-size="15.7" fill="#131722" textLength="67.59" lengthAdjust="spacingAndGlyphs">60,000.00</text>
<text x="1612.98" y="678.7" font-size="15.7" fill="#131722" textLength="67.59" lengthAdjust="spacingAndGlyphs">56,000.00</text>
<text x="170.58" y="721.8" font-size="15.7" fill="#131722" textLength="24.01" lengthAdjust="spacingAndGlyphs">Nov</text>
<text x="363.58" y="721.8" font-size="15.7" fill="#131722" textLength="24.13" lengthAdjust="spacingAndGlyphs">Dec</text>
<text x="558.92" y="721.8" font-size="15.7" font-weight="bold" fill="#131722" textLength="33.58" lengthAdjust="spacingAndGlyphs">2025</text>
<text x="763.57" y="721.8" font-size="15.7" fill="#131722" textLength="24.25" lengthAdjust="spacingAndGlyphs">Feb</text>
<text x="943.56" y="721.8" font-size="15.7" fill="#131722" textLength="24.72" lengthAdjust="spacingAndGlyphs">Mar</text>
<text x="1144.55" y="721.8" font-size="15.7" fill="#131722" textLength="22.44" lengthAdjust="spacingAndGlyphs">Apr</text>
<text x="1335.97" y="721.8" font-size="15.7" fill="#131722" textLength="26.18" lengthAdjust="spacingAndGlyphs">May</text>
<text x="1537.67" y="721.8" font-size="15.7" fill="#131722" textLength="23.22" lengthAdjust="spacingAndGlyphs">Jun</text>
<text x="41.90" y="761.7" font-size="16" fill="#0e0e0e" textLength="87.11" lengthAdjust="spacingAndGlyphs">TradingView</text>
<path d="M1604 157H1691Q1694 157 1694 160V175Q1694 178 1691 178H1604Z" fill="#089981"/>
<path d="M1604 678H1658Q1661 678 1661 681V696Q1661 699 1658 699H1604Z" fill="#26a69a"/>
<text x="1613.84" y="172.0" font-size="15.7" fill="#fff" textLength="73.26" lengthAdjust="spacingAndGlyphs">105,472.21</text>
<text x="1613.88" y="694.1" font-size="15.7" fill="#fff" textLength="29.66" lengthAdjust="spacingAndGlyphs">5.08</text>
<text x="1645.24" y="694.1" font-size="15.7" fill="#fff" textLength="9.89" lengthAdjust="spacingAndGlyphs">K</text>
<g transform="translate(13.1,747.2) scale(0.68)" fill="#0e0e0e"><path d="M14 22H7V11H0V4h14v18zM28 22h-8l7.5-18h8L28 22z"/><circle cx="20" cy="8" r="4"/></g>
</svg></body></html>
